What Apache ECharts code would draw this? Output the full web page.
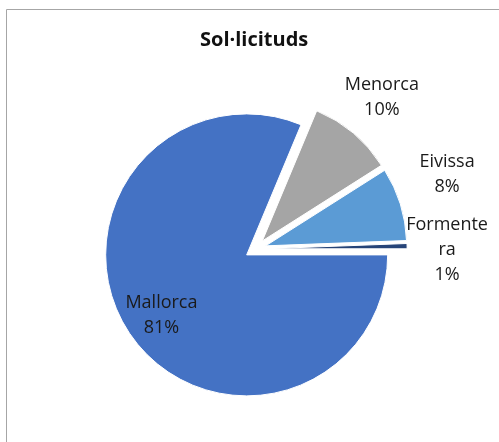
<!DOCTYPE html>
<html>
<head>
<meta charset="utf-8">
<script src="https://cdn.jsdelivr.net/npm/echarts@6/dist/echarts.min.js"></script>
<style>html,body{margin:0;padding:0;background:#fff;}#c{width:499px;height:442px;}</style>
</head>
<body>
<div id="c"></div>
<script>
const title = 'Sol·licituds';
const categories = ['Mallorca', 'Menorca', 'Eivissa', 'Formentera'];
const values = [81.3, 9.7, 8.4, 0.6];
const colors = ['#4472C4', '#A5A5A5', '#5B9BD5', '#264478'];

const chart = echarts.init(document.getElementById('c'), null, {renderer: 'canvas'});
const center = [255.5, 249];
const offset = 10.6;
const font = "'Open Sans', 'Noto Sans', sans-serif";
// small label nudges (dx, dy) per category, like Excel's label placement
const labelNudge = [[3, 2], [-3, 2], [0, -15], [-3, 5]];

function mainData() {
  return categories.map((n, i) => ({
    name: n, value: values[i], selected: true,
    itemStyle: {color: colors[i]}
  }));
}
function labelData(showFn) {
  return categories.map((n, i) => ({
    name: n, value: values[i], selected: true,
    label: {show: showFn(i)}
  }));
}
const labelCommon = {
  position: 'inside',
  formatter: '{b}\n{d}%',
  fontFamily: font,
  fontSize: 18,
  lineHeight: 25,
  color: '#1a1a1a',
  align: 'center'
};
const nudge = function (p) {
  const d = labelNudge[p.dataIndex];
  return {dx: d[0], dy: d[1]};
};
const labelSeriesCommon = {
  type: 'pie', center: center, startAngle: 0, clockwise: true,
  selectedMode: 'multiple', selectedOffset: offset, percentPrecision: 0,
  minShowLabelAngle: 0, avoidLabelOverlap: false,
  itemStyle: {color: 'rgba(0,0,0,0)'}, labelLine: {show: false},
  labelLayout: nudge,
  emphasis: {disabled: true}, silent: true, z: 5
};

chart.setOption({
  animation: false,
  title: {
    text: title, left: 200, top: 30, padding: 0,
    textStyle: {fontFamily: font, fontWeight: 'bold', fontSize: 20, color: '#111'}
  },
  graphic: [{
    type: 'rect', shape: {x: 6.5, y: 9.5, width: 600, height: 600},
    style: {fill: 'none', stroke: '#a6a6a6', lineWidth: 1}, silent: true
  }],
  series: [
    {
      type: 'pie', center: center, radius: [0, 141], startAngle: 0, clockwise: true,
      selectedMode: 'multiple', selectedOffset: offset, percentPrecision: 0,
      label: {show: false}, labelLine: {show: false},
      itemStyle: {borderColor: '#fff', borderWidth: 1},
      emphasis: {disabled: true}, silent: true,
      data: mainData()
    },
    Object.assign({}, labelSeriesCommon, {
      radius: [0, 206],
      label: labelCommon,
      data: labelData(i => i === 0)
    }),
    Object.assign({}, labelSeriesCommon, {
      radius: [168, 206],
      label: Object.assign({}, labelCommon, {width: 86, overflow: 'breakAll'}),
      data: labelData(i => i === 1 || i === 2)
    }),
    Object.assign({}, labelSeriesCommon, {
      radius: [162, 200],
      label: Object.assign({}, labelCommon, {width: 86, overflow: 'breakAll'}),
      data: labelData(i => i === 3)
    })
  ]
});
</script>
</body>
</html>
